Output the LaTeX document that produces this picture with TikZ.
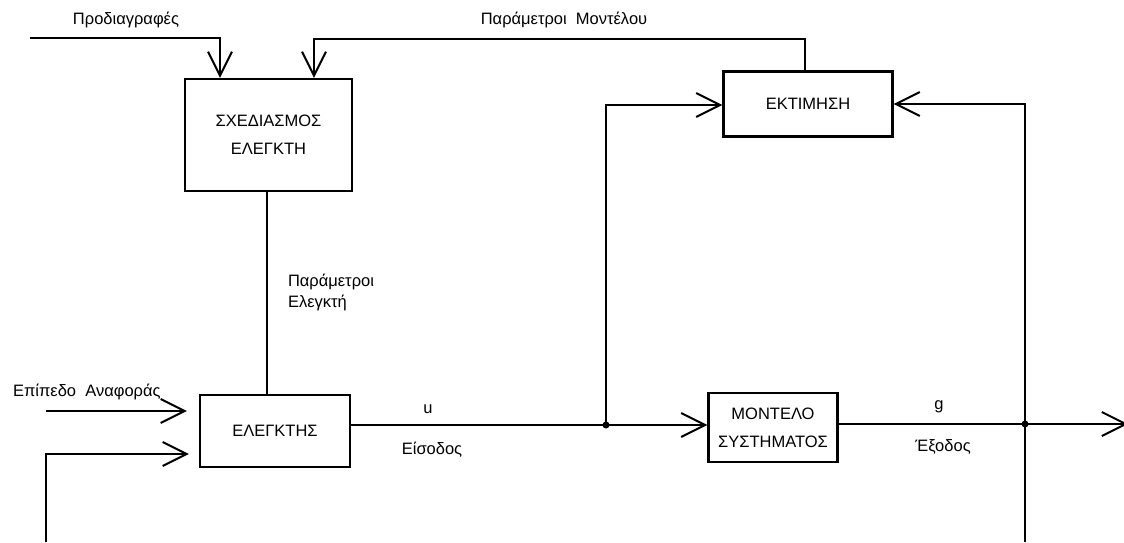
\documentclass[tikz,border=0pt]{standalone}
\usepackage{fontspec}
\setmainfont{Liberation Sans}
\usetikzlibrary{arrows.meta}
\begin{document}
\begin{tikzpicture}[x=1pt,y=-1pt,
  font=\fontsize{16.5}{19}\selectfont,
  line width=2pt,
  blk/.style={draw,rectangle,line width=2.2pt,inner sep=0pt,align=center,font=\fontsize{16.5}{28}\selectfont},
  barb/.style={-{Straight Barb[length=24pt,width=24pt,line width=2pt]}},
  lbl/.style={inner sep=0pt,anchor=center},
  jdot/.style={fill,circle,inner sep=0pt,minimum size=7pt}]
\useasboundingbox (0,0) rectangle (1124,542);

% blocks
\node[blk,minimum width=167pt,minimum height=112pt] (sx) at (268.5,135) {ΣΧΕΔΙΑΣΜΟΣ\\ΕΛΕΓΚΤΗ};
\node[blk,minimum width=169pt,minimum height=65pt] (ek) at (808,104) {ΕΚΤΙΜΗΣΗ};
\node[blk,minimum width=150pt,minimum height=72pt] (el) at (275,431) {ΕΛΕΓΚΤΗΣ};
\node[blk,minimum width=129pt,minimum height=69pt] (mo) at (773,427.5) {ΜΟΝΤΕΛΟ\\ΣΥΣΤΗΜΑΤΟΣ};

% free ends, corners and junctions
\coordinate (specin) at (30,38);
\coordinate (mpcorner) at (805,39);
\coordinate (refin) at (46,411);
\coordinate (fbin) at (46,542);
\coordinate (fbturn) at (46,454);
\coordinate (j1) at (606,425);
\coordinate (j2) at (1025,424);
\coordinate (gout) at (1128,424);
\coordinate (estbot) at (1025,542);

% specifications into design
\draw[barb] (specin) -| ([xshift=-48.5pt]sx.north);
% model parameters from estimation back to design
\draw[barb] (ek.north -| mpcorner) -- (mpcorner) -| ([xshift=45.5pt]sx.north);
% controller parameters
\draw ([xshift=-1.5pt]sx.south) -- ([xshift=-8pt]el.north);
% controller inputs
\draw[barb,shorten >=12pt] (refin) -- (refin -| el.west);
\draw[barb,shorten >=10pt] (fbin) -- (fbturn) -- (fbturn -| el.west);
% plant input u
\draw (j1 -| el.east) -- (j1);
\draw[barb] (j1) -- (j1 -| mo.west);
\draw[barb,line width=2.6pt] (j1) |- ([yshift=-1pt]ek.west);
% plant output g
\draw (j2 -| mo.east) -- (j2);
\draw[barb] (j2) -- (gout);
\draw[barb] (estbot) |- (ek.east);
\node[jdot] (d1) at (j1) {};
\node[jdot] (d2) at (j2) {};

% labels
\node[lbl] (tspec) at (126,20) {Προδιαγραφές};
\node[lbl] (tmp) at (564,20) {Παράμετροι\ \ Μοντέλου};
\node[lbl,anchor=west,align=left,font=\fontsize{16.5}{21}\selectfont] (tcp) at (287,292) {Παράμετροι\\Ελεγκτή};
\node[lbl,anchor=west] (tref) at (12,392) {Επίπεδο\ \ Αναφοράς};
\node[lbl] (tu) at (428,409) {u};
\node[lbl] (tin) at (432,450) {Είσοδος};
\node[lbl] (tg) at (939,407) {g};
\node[lbl] (tout) at (943,447) {Έξοδος};
\end{tikzpicture}
\end{document}
